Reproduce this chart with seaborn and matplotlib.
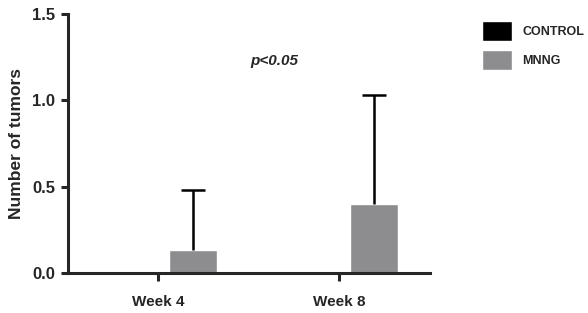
import numpy as np
import pandas as pd
import matplotlib
matplotlib.use('Agg')
import matplotlib.pyplot as plt
import seaborn as sns

# data
weeks = ['Week 4', 'Week 8']
groups = ['CONTROL', 'MNNG']
control_mean = [0.0, 0.0]
mnng_mean = [0.135, 0.40]
mnng_err = [0.345, 0.63]
control_err = [0.0, 0.0]

sns.set_style('ticks')
plt.rcParams.update({
    'font.family': ['Liberation Sans', 'DejaVu Sans'],
    'font.weight': 'bold',
    'axes.linewidth': 2.2,
})

df = pd.DataFrame({
    'week': weeks * 2,
    'group': [groups[0]] * 2 + [groups[1]] * 2,
    'value': control_mean + mnng_mean,
})

palette = {'CONTROL': '#000000', 'MNNG': '#8d8d90'}

fig = plt.figure(figsize=(5.88, 3.13), dpi=100)
ax = fig.add_axes([0.1156, 0.128, 0.731 - 0.1156, 0.955 - 0.128])

sns.barplot(data=df, x='week', y='value', hue='group', palette=palette,
            width=0.76, gap=0.3, ax=ax, errorbar=None, saturation=1)

# upward-only error bars (stem + top cap) at the bar centres
errs = control_err + mnng_err
for patch, val, err in zip(ax.patches, control_mean + mnng_mean, errs):
    if err <= 0:
        continue
    xc = patch.get_x() + patch.get_width() / 2
    ax.errorbar(xc, val, yerr=[[0], [err]], fmt='none', ecolor='black',
                elinewidth=1.8, capsize=0, zorder=3)
    ax.plot([xc], [val + err], marker='_', markersize=17, markeredgewidth=1.8,
            color='black', zorder=3, clip_on=False)

ax.set_xlim(-0.5, 1.5)
ax.set_ylim(0, 1.5)
ax.set_yticks([0.0, 0.5, 1.0, 1.5])
ax.set_yticklabels(['0.0', '0.5', '1.0', '1.5'], fontsize=12, fontweight='bold')
ax.set_xticks([0, 1])
ax.set_xticklabels(weeks, fontsize=11, fontweight='bold')
ax.tick_params(axis='y', width=2.2, length=5, pad=4)
ax.tick_params(axis='x', width=2.2, length=6, pad=10)
ax.set_xlabel('')
ax.set_ylabel('Number of tumors', fontsize=12.5, fontweight='bold', labelpad=6)
sns.despine(ax=ax)

ax.text(0.64, 1.23, 'p<0.05', fontsize=11, fontweight='bold', fontstyle='italic',
        ha='center', va='center')

handles, labels = ax.get_legend_handles_labels()
ax.legend(handles, labels, loc='upper left', bbox_to_anchor=(1.114, 1.016),
          frameon=False, handlelength=2.4, handleheight=2.1,
          labelspacing=0.7, handletextpad=0.8,
          prop={'weight': 'bold', 'size': 9})

fig.savefig('out.png', dpi=100)
